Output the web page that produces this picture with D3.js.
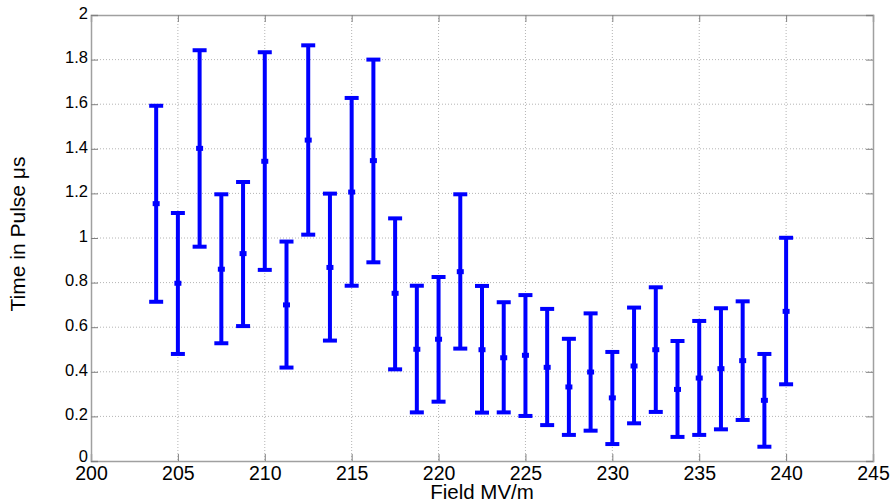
<!DOCTYPE html>
<html>
<head>
<meta charset="utf-8">
<script src="https://cdn.jsdelivr.net/npm/d3@7"></script>
<style>
  body { margin: 0; background: #fff; }
  text { font-family: "Liberation Sans", Arial, sans-serif; fill: #000; }
</style>
</head>
<body>
<svg id="chart"></svg>
<script>
// field values (MV/m) for each measurement
const field = [203.75, 205, 206.25, 207.5, 208.75, 210, 211.25, 212.5, 213.75, 215,
  216.25, 217.5, 218.75, 220, 221.25, 222.5, 223.75, 225, 226.25, 227.5,
  228.75, 230, 231.25, 232.5, 233.75, 235, 236.25, 237.5, 238.75, 240];
// mean time in pulse (us)
const mean = [1.154, 0.797, 1.402, 0.860, 0.930, 1.344, 0.700, 1.439, 0.868, 1.206,
  1.347, 0.752, 0.501, 0.546, 0.849, 0.499, 0.463, 0.474, 0.420, 0.332,
  0.399, 0.283, 0.426, 0.499, 0.321, 0.372, 0.414, 0.450, 0.272, 0.671];
// error bar lower / upper ends
const lower = [0.714, 0.480, 0.961, 0.528, 0.605, 0.857, 0.419, 1.015, 0.540, 0.786,
  0.891, 0.411, 0.218, 0.266, 0.504, 0.217, 0.218, 0.202, 0.161, 0.117,
  0.136, 0.076, 0.169, 0.220, 0.108, 0.117, 0.142, 0.184, 0.064, 0.344];
const upper = [1.593, 1.112, 1.842, 1.196, 1.251, 1.833, 0.984, 1.864, 1.199, 1.628,
  1.800, 1.088, 0.786, 0.825, 1.196, 0.785, 0.712, 0.744, 0.682, 0.548,
  0.662, 0.489, 0.688, 0.779, 0.538, 0.628, 0.685, 0.716, 0.480, 1.001];

const xTicks = [200, 205, 210, 215, 220, 225, 230, 235, 240, 245];
const yTicks = [0, 0.2, 0.4, 0.6, 0.8, 1, 1.2, 1.4, 1.6, 1.8, 2];

var w = 891, h = 502;
var mLeft = 91, mRight = 873, mTop = 15, mBottom = 461;
var svg = d3.select("#chart").attr("width", w).attr("height", h);

var x = d3.scaleLinear().domain([200, 245]).range([mLeft, mRight]);
var y = d3.scaleLinear().domain([0, 2]).range([mBottom, mTop]);

// grid
svg.append("g").selectAll("line")
  .data(xTicks.slice(1, -1))
  .enter().append("line")
  .attr("x1", d => x(d)).attr("x2", d => x(d))
  .attr("y1", mTop).attr("y2", mBottom)
  .attr("stroke", "#b4b4b4").attr("stroke-width", 1)
  .attr("stroke-dasharray", "1,2");
svg.append("g").selectAll("line")
  .data(yTicks.slice(1, -1))
  .enter().append("line")
  .attr("x1", mLeft).attr("x2", mRight)
  .attr("y1", d => y(d)).attr("y2", d => y(d))
  .attr("stroke", "#b4b4b4").attr("stroke-width", 1)
  .attr("stroke-dasharray", "1,2");

// axes (ticks inward on all sides)
var tickLen = 7;
var xb = svg.append("g").attr("transform", "translate(0," + mBottom + ")")
  .call(d3.axisBottom(x).tickValues(xTicks).tickSize(-tickLen).tickPadding(5).tickFormat(d3.format("d")));
var xt = svg.append("g").attr("transform", "translate(0," + mTop + ")")
  .call(d3.axisTop(x).tickValues(xTicks).tickSize(-tickLen).tickFormat(""));
var yl = svg.append("g").attr("transform", "translate(" + mLeft + ",0)")
  .call(d3.axisLeft(y).tickValues(yTicks).tickSize(-tickLen).tickPadding(3).tickFormat(d => d3.format("~g")(d)));
var yr = svg.append("g").attr("transform", "translate(" + mRight + ",0)")
  .call(d3.axisRight(y).tickValues(yTicks).tickSize(-tickLen).tickFormat(""));

[xb, xt, yl, yr].forEach(function (g) {
  g.select(".domain").attr("stroke", "#a0a0a0").attr("stroke-width", 1.5);
  g.selectAll(".tick line").attr("stroke", "#808080").attr("stroke-width", 1);
});
xb.selectAll("text").style("font-size", "19.5px").attr("fill", "#000").attr("dy", "0.72em");
yl.selectAll("text").style("font-size", "16.5px").attr("fill", "#000").attr("dy", "0.2em");
yl.selectAll(".tick").filter(d => d === 0).select("text").attr("dy", "0.05em");

// error bars
var bars = svg.append("g");
var capW = 14;
field.forEach(function (f, i) {
  var cx = x(f);
  bars.append("line")
    .attr("x1", cx).attr("x2", cx)
    .attr("y1", y(lower[i])).attr("y2", y(upper[i]))
    .attr("stroke", "#0000ff").attr("stroke-width", 4);
  [lower[i], upper[i]].forEach(function (v) {
    bars.append("line")
      .attr("x1", cx - capW / 2).attr("x2", cx + capW / 2)
      .attr("y1", y(v)).attr("y2", y(v))
      .attr("stroke", "#0000ff").attr("stroke-width", 4);
  });
  bars.append("rect")
    .attr("x", cx - 3.5).attr("y", y(mean[i]) - 2.5)
    .attr("width", 7).attr("height", 5)
    .attr("fill", "#0000ff");
});

// labels
svg.append("text")
  .attr("x", (mLeft + mRight) / 2).attr("y", 499)
  .attr("text-anchor", "middle")
  .style("font-size", "20.5px")
  .text("Field MV/m");
svg.append("text")
  .attr("transform", "translate(25," + 234 + ") rotate(-90)")
  .attr("text-anchor", "middle")
  .style("font-size", "21px")
  .text("Time in Pulse \u03bcs");
</script>
</body>
</html>
